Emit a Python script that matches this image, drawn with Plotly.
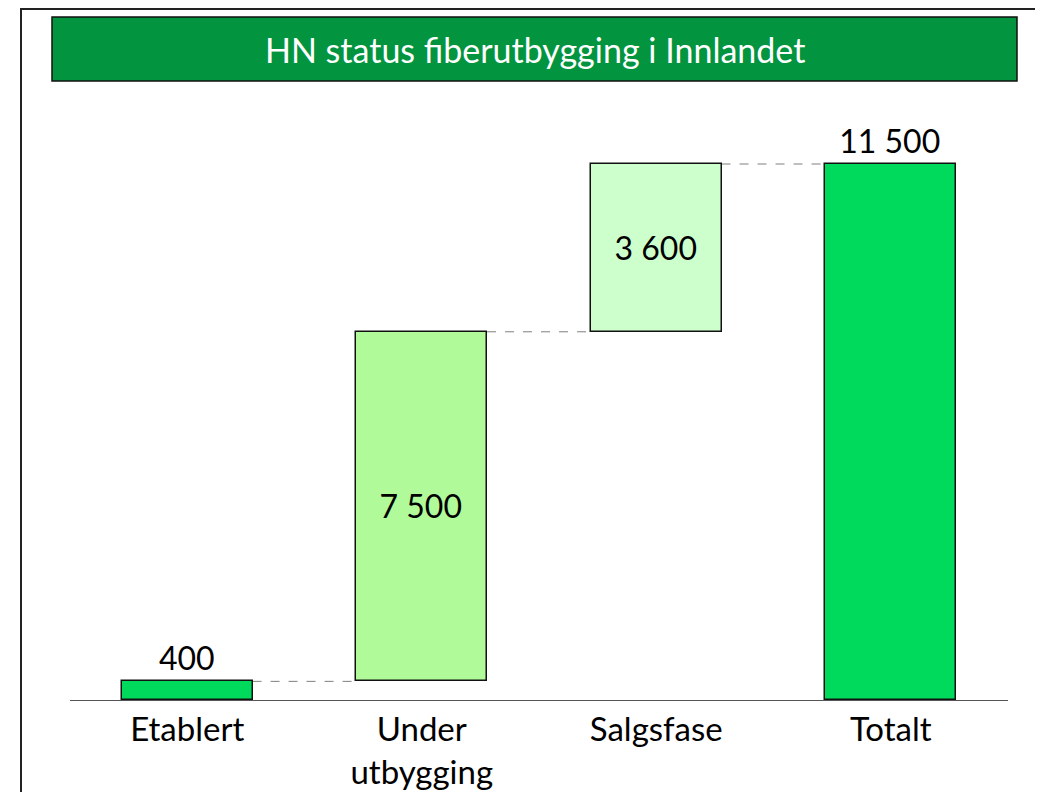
import plotly.graph_objects as go

categories = ["Etablert", "Under<br>utbygging", "Salgsfase", "Totalt"]
values = [400, 7500, 3600, 11500]
measures = ["relative", "relative", "relative", "total"]
labels = ["400", "7 500", "3 600", "11 500"]
colors = ["#00DA5C", "#B0FA9A", "#CCFFCC", "#00DA5C"]
title = "HN status fiberutbygging i Innlandet"

# compute bases from the waterfall logic
bases, tops = [], []
running = 0
for v, m in zip(values, measures):
    if m == "total":
        bases.append(0)
        running = v
    else:
        bases.append(running)
        running += v
    tops.append(running)

FONT = "Lato"
bar_w = 0.557
x = list(range(len(categories)))

fig = go.Figure()
fig.add_trace(go.Bar(
    x=x, y=values, base=bases, width=bar_w,
    marker=dict(color=colors, line=dict(color="#111111", width=1.5)),
    text=labels,
    textposition=["outside" if m == "total" or i == 0 else "inside" for i, m in enumerate(measures)],
    insidetextanchor="middle",
    textfont=dict(family=FONT, size=32, color="black"),
    cliponaxis=False,
    showlegend=False,
    hoverinfo="skip",
))

shapes = []
for i in range(len(values) - 1):
    shapes.append(dict(type="line", xref="x", yref="y",
                       x0=i + bar_w / 2, x1=i + 1 - bar_w / 2, y0=tops[i], y1=tops[i],
                       line=dict(color="#7f7f7f", width=1, dash="dash"), layer="below"))

# page has an 8px body margin; layout positions are in figure pixels
L, R, T, B = 62, 43, 92, 100
W, H = 1043, 792
pw, ph = W - L - R, H - T - B
def px(xp): return (xp - L) / pw
def py(yp): return (T + ph - yp) / ph

# outer frame
shapes.append(dict(type="rect", xref="paper", yref="paper",
                   x0=px(13), x1=px(1060), y0=py(820), y1=py(1),
                   line=dict(color="#222222", width=2), fillcolor="rgba(0,0,0,0)"))
# title box
shapes.append(dict(type="rect", xref="paper", yref="paper",
                   x0=px(44), x1=px(1009), y0=py(73), y1=py(9),
                   line=dict(color="#111111", width=1.5), fillcolor="#03943F"))

fig.update_layout(
    width=W, height=H,
    margin=dict(l=L, r=R, t=T, b=B, autoexpand=False),
    paper_bgcolor="white", plot_bgcolor="white",
    shapes=shapes,
    bargap=0,
    annotations=[dict(text=title, xref="paper", yref="paper",
                      x=px(526.5), y=py(41), xanchor="center", yanchor="middle",
                      showarrow=False, font=dict(family=FONT, size=34, color="white"))],
    xaxis=dict(tickmode="array", tickvals=x, ticktext=categories, range=[-0.5, 3.5],
               showgrid=False, zeroline=False, showline=True, linecolor="#555555", linewidth=1,
               ticks="", tickfont=dict(family=FONT, size=33, color="black"), ticklabelstandoff=0,
               automargin=False, fixedrange=True),
    yaxis=dict(range=[0, ph / (536 / 11500)], visible=False, showgrid=False, zeroline=False,
               automargin=False, fixedrange=True),
)

fig.write_html("out.html", config={"displayModeBar": False})
